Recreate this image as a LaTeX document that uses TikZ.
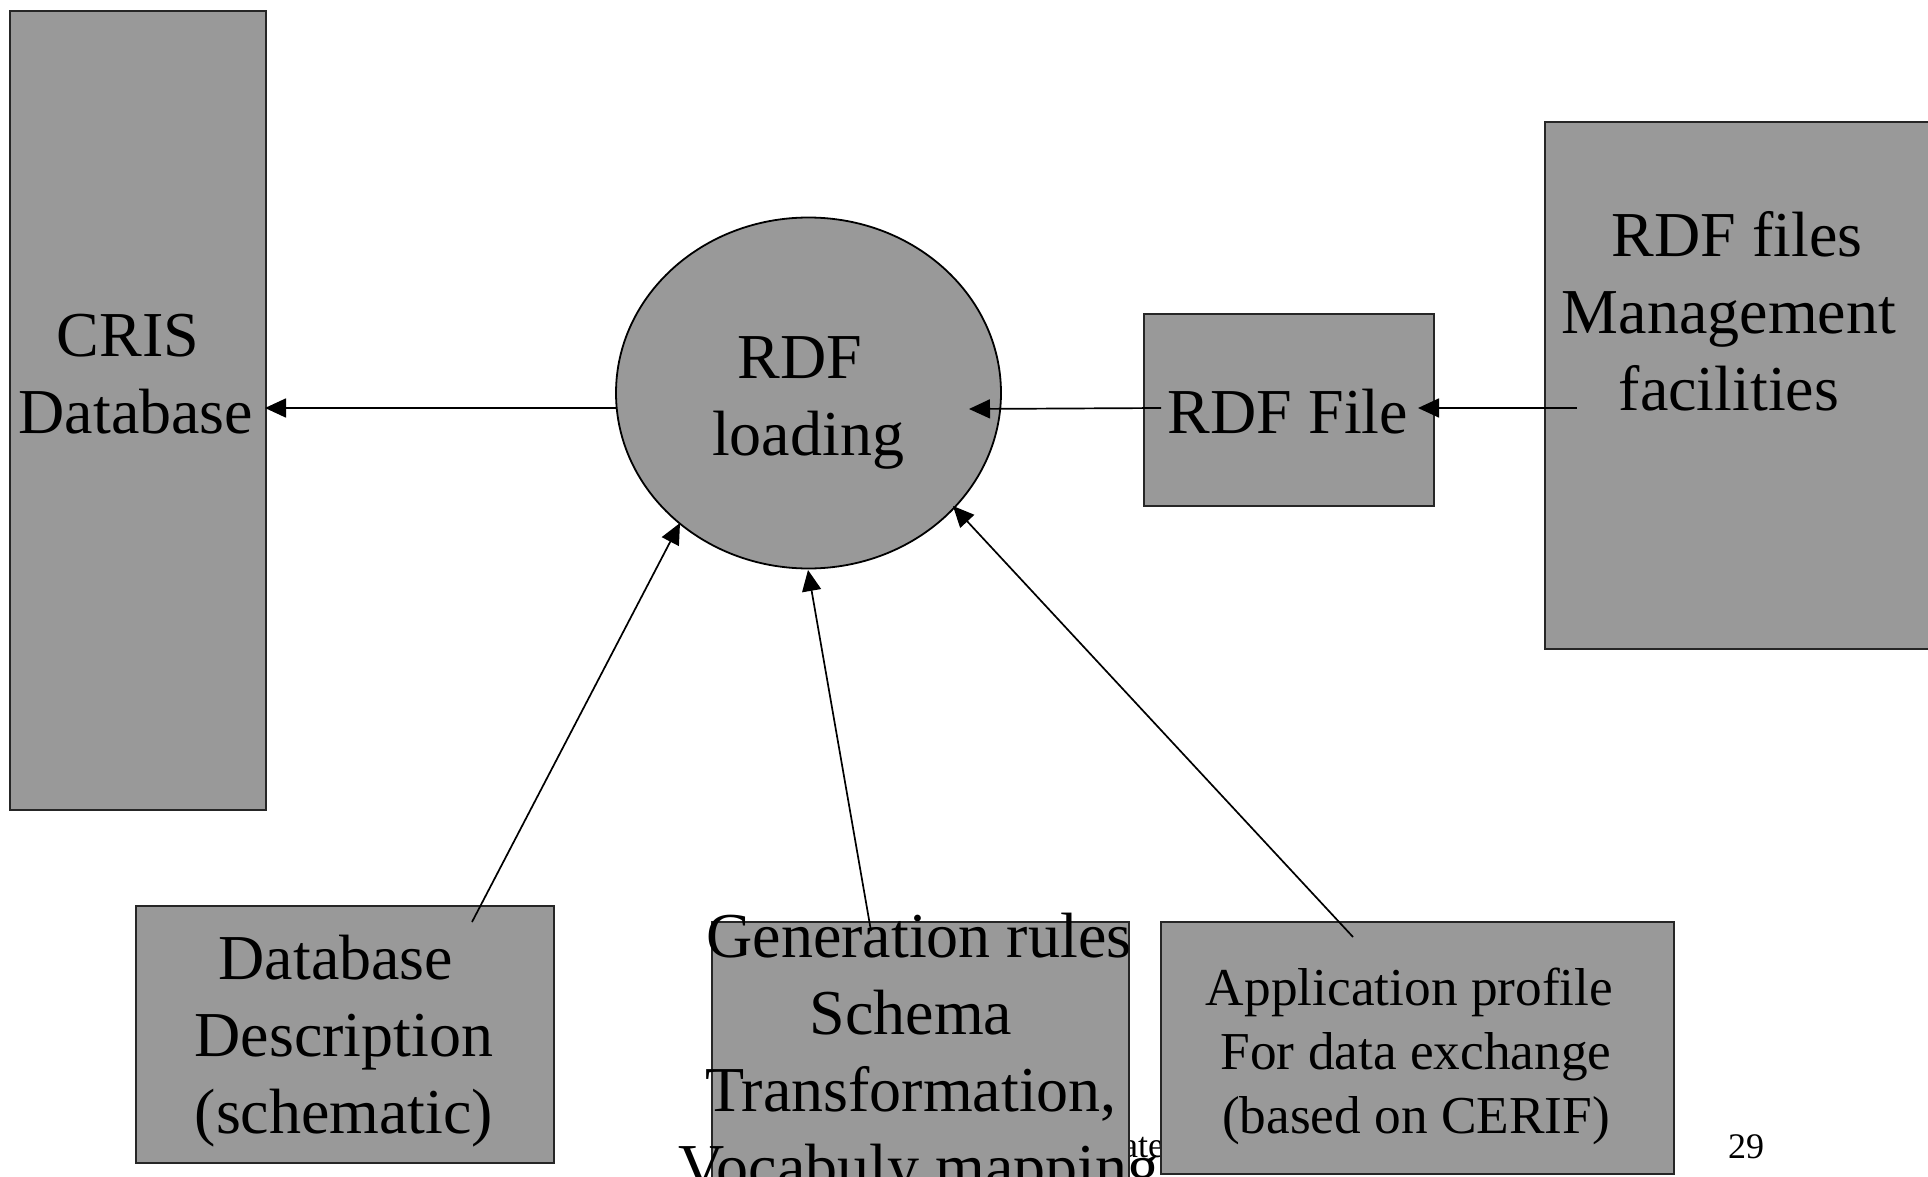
\documentclass[tikz,border=0pt]{standalone}
\usepackage{fontspec}
\setmainfont{Liberation Serif}
\usetikzlibrary{arrows.meta,shapes.geometric}
\definecolor{boxgray}{RGB}{153,153,153}
\newcommand\mylines[1]{\begin{tabular}[t]{@{}c@{}}#1\end{tabular}}
\begin{document}
\begin{tikzpicture}[x=1pt,y=-1pt,
  box/.style={draw=black!85, line width=1.6pt, fill=boxgray, rectangle, inner sep=0pt, anchor=north west},
  big/.style={font=\fontsize{64}{77}\selectfont, inner sep=0pt, anchor=base},
  small/.style={font=\fontsize{36}{43}\selectfont, inner sep=0pt},
  conn/.style={line width=1.7pt, -{Triangle[length=21pt,width=19pt]}},
]
\useasboundingbox (0,0) rectangle (1928,1177);
\clip (0,0) rectangle (1928,1177);
% footer text, mostly hidden
\node[small, anchor=base west] (foot) at (1122,1157) {ate};
% boxes
\node[box, minimum width=256pt, minimum height=799pt] (cris) at (9,10) {};
\node[draw=black, line width=1.8pt, fill=boxgray, ellipse, inner sep=0pt,
      minimum width=385pt, minimum height=351pt] (load) at (808.5,393) {};
\node[box, minimum width=290pt, minimum height=192pt] (file) at (1143,313) {};
\node[box, minimum width=400pt, minimum height=527pt] (mgmt) at (1544,121) {};
\node[box, minimum width=418pt, minimum height=257pt] (db) at (135,905) {};
\node[box, minimum width=417pt, minimum height=290pt] (gen) at (711,921) {};
\node[box, minimum width=513pt, minimum height=252pt] (app) at (1160,921) {};
% connector end points
\coordinate (loadW) at (617,408);
\coordinate (crisIn) at (265,408);
\coordinate (fileOut) at (1161,408);
\coordinate (loadE) at (969,409);
\coordinate (mgmtOut) at (1577,408);
\coordinate (fileIn) at (1418,408);
\coordinate (dbOut) at (472,922);
\coordinate (loadSW) at (680,523);
\coordinate (genOut) at (871,931);
\coordinate (loadS) at (808,570);
\coordinate (appOut) at (1353,937);
\coordinate (loadSE) at (953,506);
% connectors
\draw[conn] (loadW) -- (crisIn);
\draw[conn] (fileOut) -- (loadE);
\draw[conn] (mgmtOut) -- (fileIn);
\draw[conn] (dbOut) -- (loadSW);
\draw[conn] (genOut) -- (loadS);
\draw[conn] (appOut) -- (loadSE);
% texts
\node[big] (crisT) at (136,356) {\mylines{CRIS\kern16pt\\Database}};
\node[big] (loadT) at (808,378) {\mylines{RDF\kern16pt\\loading}};
\node[big] (fileT) at (1288,433) {RDF File};
\node[big] (mgmtT) at (1729,257) {\mylines{\kern16pt RDF files\\Management\\facilities}};
\node[big] (dbT) at (344,979) {\mylines{Database\kern16pt\\Description\\(schematic)}};
\node[big] (genT) at (919,957) {\mylines{Generation rules\\Schema\kern16pt\\Transformation,\kern16pt\\Vocabuly mapping}};
\node[font=\fontsize{53.3}{64}\selectfont, inner sep=0pt, anchor=base] (appT) at (1416,1005) {\mylines{Application profile\kern13pt\\For data exchange\\(based on CERIF)}};
\node[small, anchor=base] (pagenum) at (1746,1158) {29};
\end{tikzpicture}
\end{document}
